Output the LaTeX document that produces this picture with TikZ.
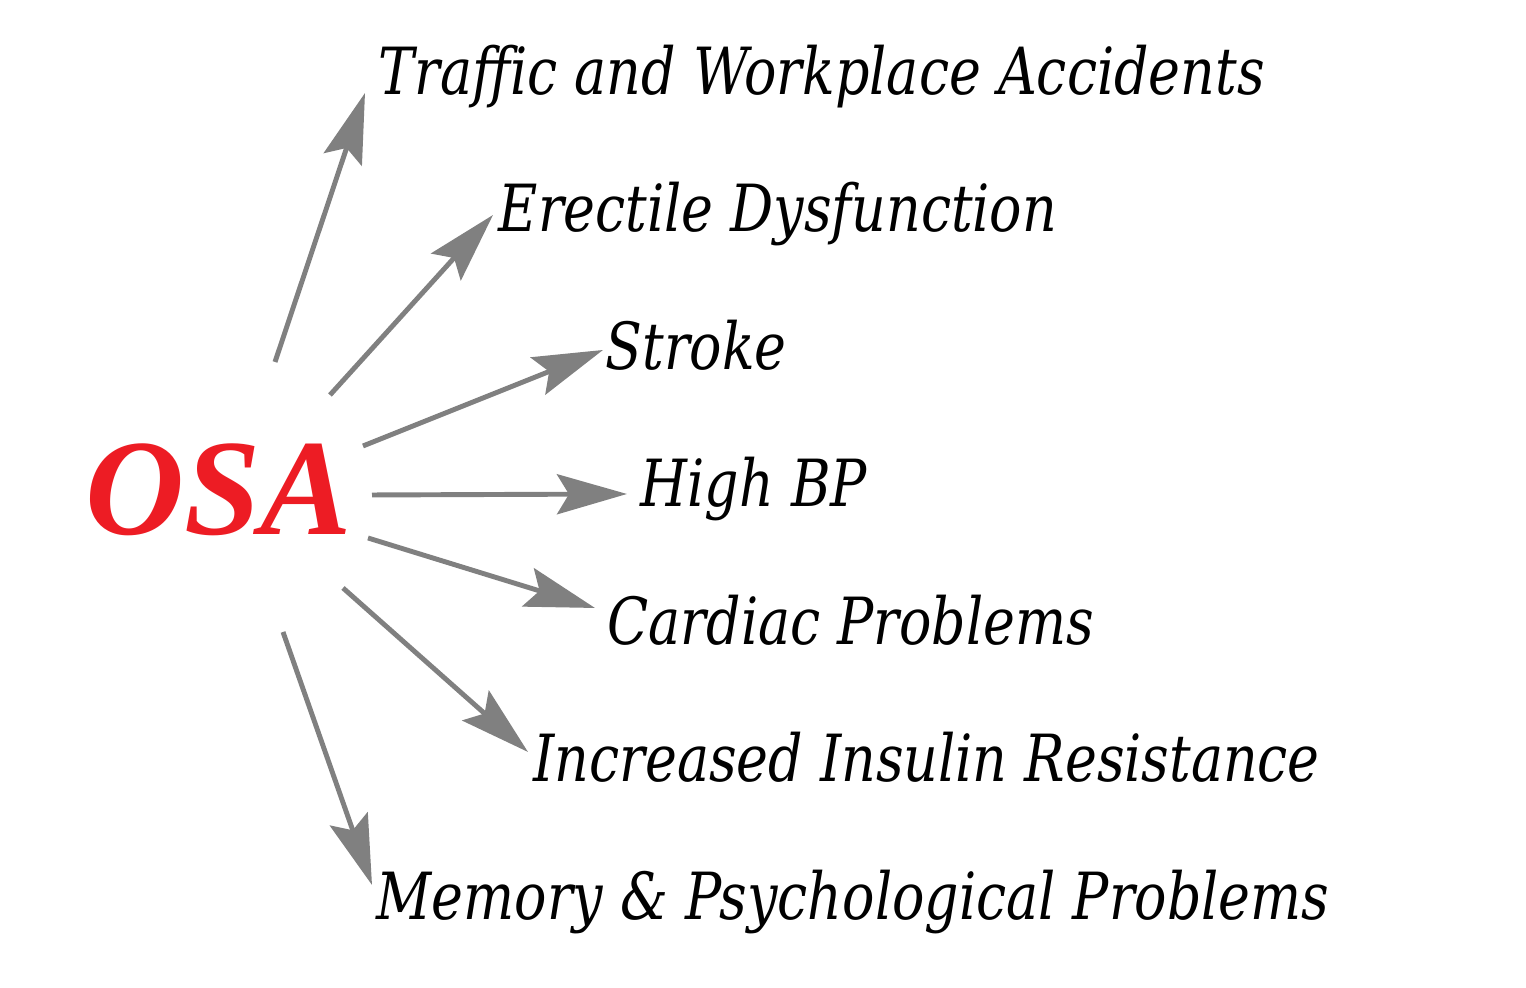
\documentclass[tikz,border=0pt]{standalone}
\usepackage{fontspec}
\newfontfamily\osafont{Liberation Serif}
\newfontfamily\effectfont{DejaVu Serif Condensed}[FakeStretch=0.92]
\usetikzlibrary{arrows.meta}

\definecolor{osared}{HTML}{ED1C24}
\definecolor{arrowgray}{HTML}{808080}

\tikzset{
  effect/.style={anchor=base west, inner sep=0pt, font=\effectfont\fontsize{18.5}{22}\selectfont\itshape},
  link/.style={draw=arrowgray, line width=1.4pt,
    -{Stealth[length=7mm, width=4mm, inset=1.2mm, fill=arrowgray]}},
}

\begin{document}
\begin{tikzpicture}
            \useasboundingbox (0,0) rectangle (15.26,9.88);

            \node[anchor=base west, inner sep=0pt, text=osared,
                  font=\osafont\fontsize{39}{44}\selectfont\bfseries\itshape] (osa) at (0.85,4.53) {OSA};

            \node[effect] (traffic) at (3.78,8.93) {Traffic and Workplace Accidents};
            \node[effect] (erectile) at (4.98,7.56) {Erectile Dysfunction};
            \node[effect] (stroke) at (6.05,6.18) {Stroke};
            \node[effect] (highbp) at (6.40,4.81) {High BP};
            \node[effect] (cardiac) at (6.07,3.43) {Cardiac Problems};
            \node[effect] (insulin) at (5.33,2.06) {Increased Insulin Resistance};
            \node[effect] (memory) at (3.76,0.68) {Memory \& Psychological Problems};

            % tails round OSA
            \coordinate (t1) at (2.75,6.26);
            \coordinate (t2) at (3.30,5.93);
            \coordinate (t3) at (3.63,5.42);
            \coordinate (t4) at (3.72,4.93);
            \coordinate (t5) at (3.68,4.50);
            \coordinate (t6) at (3.43,4.00);
            \coordinate (t7) at (2.83,3.56);

            % tips in front of the texts
            \coordinate (h1) at (3.65,8.95);
            \coordinate (h2) at (4.93,7.73);
            \coordinate (h3) at (6.03,6.38);
            \coordinate (h4) at (6.27,4.94);
            \coordinate (h5) at (5.95,3.80);
            \coordinate (h6) at (5.28,2.36);
            \coordinate (h7) at (3.72,1.03);

            \draw[link] (t1) -- (h1);
            \draw[link] (t2) -- (h2);
            \draw[link] (t3) -- (h3);
            \draw[link] (t4) -- (h4);
            \draw[link] (t5) -- (h5);
            \draw[link] (t6) -- (h6);
            \draw[link] (t7) -- (h7);

        \end{tikzpicture}
\end{document}
